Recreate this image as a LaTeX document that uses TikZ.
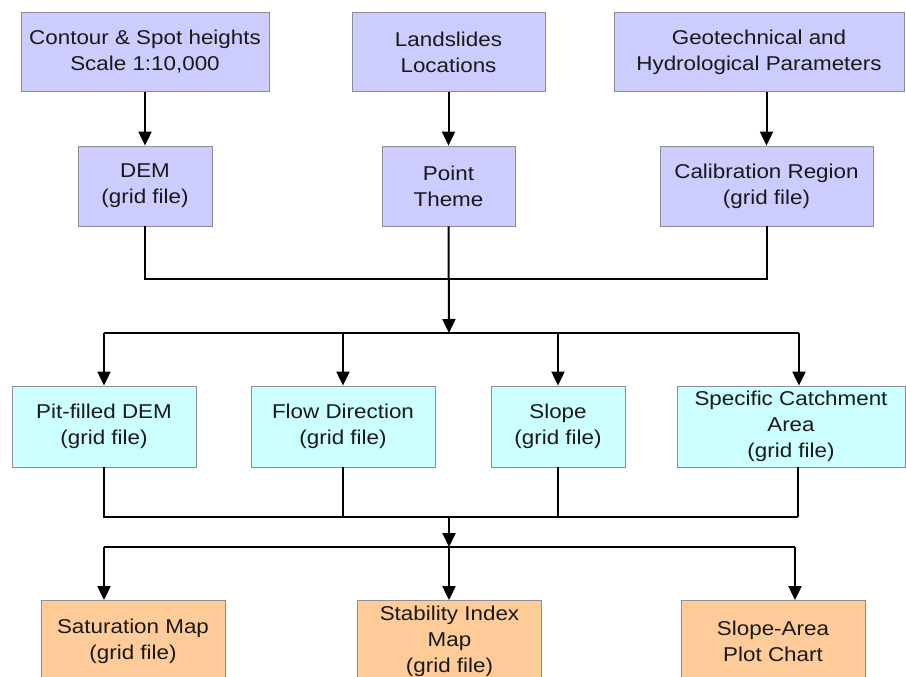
\documentclass[tikz,border=0pt]{standalone}
\usepackage{fontspec}
\setmainfont[FakeStretch=1.12]{Liberation Sans}
\usetikzlibrary{arrows.meta}
\definecolor{lav}{RGB}{204,204,255}
\definecolor{cyanbox}{RGB}{204,255,255}
\definecolor{orangebox}{RGB}{255,204,153}
\definecolor{boxborder}{RGB}{140,140,150}
\definecolor{txt}{RGB}{25,25,25}
\begin{document}
\begin{tikzpicture}[x=1pt,y=-1pt,
  box/.style={draw=boxborder, line width=0.8pt, align=center, inner sep=0pt,
    font=\fontsize{20}{26}\selectfont, text=txt},
  lavbox/.style={box, fill=lav},
  cybox/.style={box, fill=cyanbox},
  orbox/.style={box, fill=orangebox},
  conn/.style={line width=2pt, black, line join=miter},
  arr/.style={conn, -{Triangle[width=13pt,length=14pt]}}]
\useasboundingbox (0,0) rectangle (906,677);
\clip (0,0) rectangle (906,677);
\fill[white] (0,0) rectangle (906,677);

% top row
\node[lavbox, minimum width=248pt, minimum height=79pt] (c1) at (145,52) {Contour \& Spot heights\\Scale 1:10,000};
\node[lavbox, minimum width=193pt, minimum height=79pt] (c2) at (448.5,52) {Landslides\\Locations};
\node[lavbox, minimum width=290pt, minimum height=79pt] (c3) at (759,52) {Geotechnical and\\Hydrological Parameters};

% second row
\node[lavbox, minimum width=134pt, minimum height=80pt] (dem) at (145,186) {DEM\\(grid file)};
\node[lavbox, minimum width=133pt, minimum height=80pt] (pt) at (448.5,186) {Point\\Theme};
\node[lavbox, minimum width=213pt, minimum height=80pt] (cal) at (766.5,186) {Calibration Region\\(grid file)};

% third row
\node[cybox, minimum width=184pt, minimum height=81pt] (pit) at (104,426.5) {Pit-filled DEM\\(grid file)};
\node[cybox, minimum width=184pt, minimum height=81pt] (flow) at (343,426.5) {Flow Direction\\(grid file)};
\node[cybox, minimum width=134pt, minimum height=81pt] (slope) at (558,426.5) {Slope\\(grid file)};
\node[cybox, minimum width=228pt, minimum height=81pt] (sca) at (791,426.5) {Specific Catchment\\Area\\(grid file)};

% bottom row
\node[orbox, minimum width=184pt, minimum height=81pt] (sat) at (133,641) {Saturation Map\\(grid file)};
\node[orbox, minimum width=184pt, minimum height=81pt] (stab) at (449.5,641) {Stability Index\\Map\\(grid file)};
\node[orbox, minimum width=184pt, minimum height=81pt] (slar) at (773,641) {Slope-Area\\Plot Chart};

% junction coordinates
\coordinate (j1) at (449,279);
\coordinate (j2) at (449,333);
\coordinate (b1) at (104,333);
\coordinate (b4) at (799,333);
\coordinate (j3) at (449,517);
\coordinate (l4) at (798,517);
\coordinate (j4) at (449,547);
\coordinate (m1) at (104,547);
\coordinate (m3) at (795,547);

% top arrows
\draw[arr] (c1.south) -- (dem.north);
\draw[arr] (c2.south) -- (pt.north);
\draw[arr] (c3.south -| cal.north) -- (cal.north);

% merge to first junction
\draw[conn] (dem.south) |- (j1);
\draw[conn] (cal.south) |- (j1);
\draw[arr] (pt.south) -- (j2);

% branches to third row
\draw[conn] (b1) -- (b4);
\draw[arr] (b1) -- (pit.north);
\draw[arr] (flow.north |- b1) -- (flow.north);
\draw[arr] (slope.north |- b1) -- (slope.north);
\draw[arr] (b4) -- (b4 |- sca.north);

% merge to second junction
\draw[conn] (pit.south) |- (l4);
\draw[conn] (sca.south -| l4) -- (l4);
\draw[conn] (flow.south) -- (flow.south |- j3);
\draw[conn] (slope.south) -- (slope.south |- j3);
\draw[arr] (j3) -- (j4);

% branches to bottom row
\draw[conn] (m1) -- (m3);
\draw[arr] (m1) -- (m1 |- sat.north);
\draw[arr] (j4) -- (j4 |- stab.north);
\draw[arr] (m3) -- (m3 |- slar.north);
\end{tikzpicture}
\end{document}
